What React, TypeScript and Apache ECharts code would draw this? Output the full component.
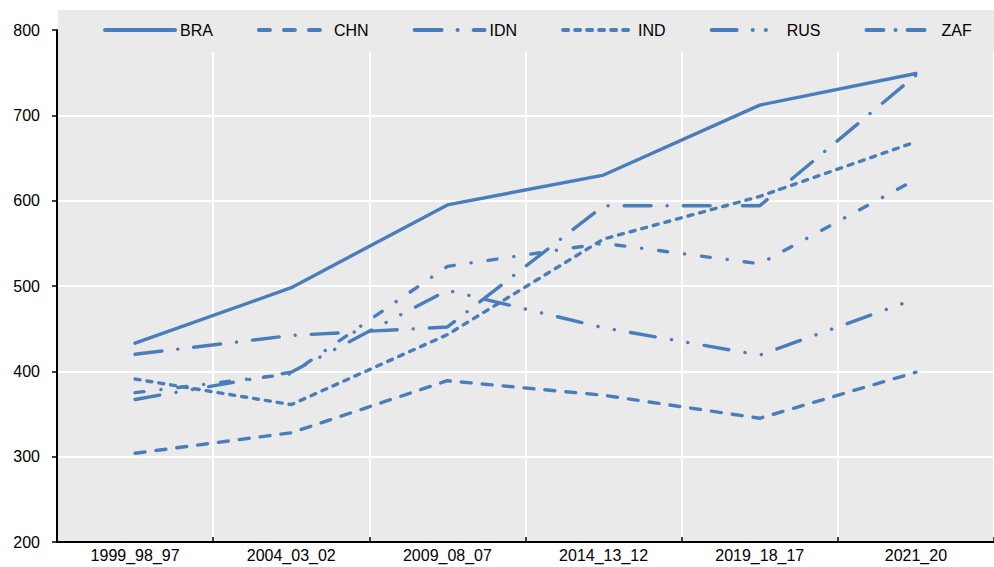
import React, { useEffect, useRef } from "react";
import * as echarts from "echarts";

const categories = ["1999_98_97", "2004_03_02", "2009_08_07", "2014_13_12", "2019_18_17", "2021_20"];
const seriesNames = ["BRA", "CHN", "IDN", "IND", "RUS", "ZAF"];
const BRA = [433, 498, 595, 630, 712, 749];
const CHN = [304, 328, 389, 372, 345, 399];
const IDN = [420, 442, 452, 594, 594, 747];
const IND = [391, 361, 443, 555, 605, 669];
const RUS = [367, 399, 495, 451, 419, 485];
const ZAF = [375, 397, 523, 550, 526, 625];
const yTicks = { min: 200, max: 800, interval: 100 };

const COLOR = "#4A7EBB";
const BG = "#EAEAEA";
const FONT = "'Liberation Sans', Arial, sans-serif";
const FS = 16;

const dashTypes: Record<string, any> = {
  BRA: "solid",
  CHN: [10, 11],
  IDN: [27, 16, 0.1, 16],
  IND: [5, 7],
  RUS: [25, 16.5, 0.1, 16.5, 0.1, 16.5],
  ZAF: [9, 17, 0.1, 17],
};
const legendDash: Record<string, any> = {
  BRA: "solid",
  CHN: [11, 14],
  IDN: [27, 16, 0.1, 16],
  IND: [5, 7],
  RUS: [25, 16, 0.1, 13, 0.1, 20],
  ZAF: [17, 12, 0.1, 12],
};
const dataByName: Record<string, number[]> = { BRA, CHN, IDN, IND, RUS, ZAF };

export default function App() {
  const ref = useRef<HTMLDivElement>(null);
  useEffect(() => {
    const chart = echarts.init(ref.current!, null, { renderer: "svg" });
    chart.setOption({
      animation: false,
      backgroundColor: "#ffffff",
      graphic: [
        {
          type: "rect",
          silent: true,
          z: -10,
          shape: { x: 58, y: 10, width: 936, height: 532 },
          style: { fill: BG },
        },
        {
          type: "rect",
          silent: true,
          z: 1,
          shape: { x: 58, y: 10, width: 936, height: 42 },
          style: { fill: BG },
        },
      ],
      grid: { left: 57, right: -11, top: 30, bottom: 25, containLabel: false },
      legend: {
        left: 103,
        top: 22,
        padding: 0,
        itemWidth: 70,
        itemHeight: 20,
        itemGap: 44,
        z: 5,
        itemStyle: { opacity: 0 },
        lineStyle: { width: 4, cap: "round" },
        textStyle: { color: "#000", fontSize: FS, fontFamily: FONT },
        data: seriesNames.map((n) => ({
          name: n,
          lineStyle: { type: legendDash[n], width: 4, cap: "round" },
        })),
      },
      xAxis: {
        type: "category",
        data: categories,
        boundaryGap: true,
        axisLine: { lineStyle: { color: "#000", width: 2 } },
        axisTick: { show: true, inside: true, length: 5, lineStyle: { color: "#000", width: 1.5 } },
        axisLabel: { color: "#000", fontSize: FS, fontFamily: FONT, margin: 5 },
        splitLine: { show: true, lineStyle: { color: "#fff", width: 2 } },
      },
      yAxis: {
        type: "value",
        min: yTicks.min,
        max: yTicks.max,
        interval: yTicks.interval,
        axisLine: { show: true, lineStyle: { color: "#000", width: 2 } },
        axisTick: { show: true, length: 5, lineStyle: { color: "#000", width: 1.5 } },
        axisLabel: { color: "#000", fontSize: FS, fontFamily: FONT, margin: 17 },
        splitLine: { show: true, lineStyle: { color: "#fff", width: 2 } },
      },
      series: seriesNames.map((n) => ({
        name: n,
        type: "line",
        data: dataByName[n],
        symbol: "none",
        symbolSize: 0,
        z: 3,
        itemStyle: { color: COLOR },
        lineStyle: { color: COLOR, width: 3.4, type: dashTypes[n], cap: "round", join: "round" },
      })),
    });
    return () => chart.dispose();
  }, []);
  return <div ref={ref} style={{ position: "absolute", left: 0, top: 0, width: 994, height: 567 }} />;
}
